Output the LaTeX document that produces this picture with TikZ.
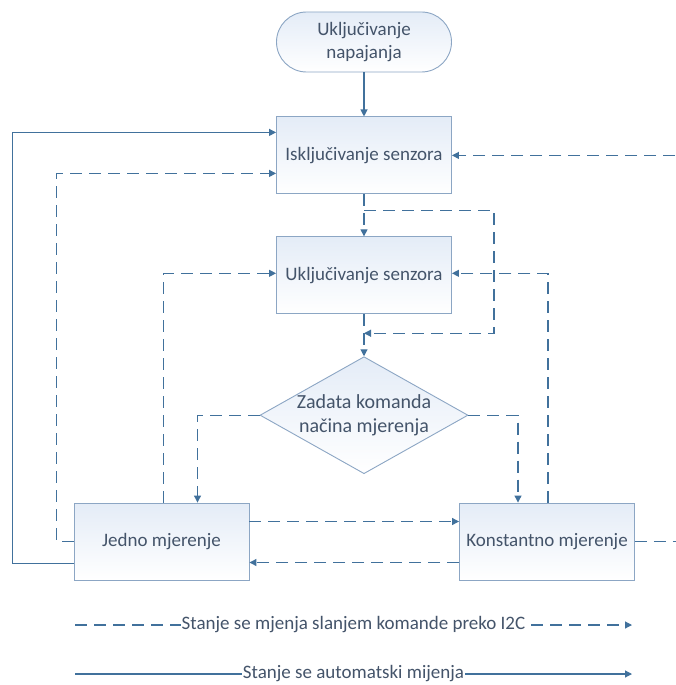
\documentclass[tikz,border=0pt]{standalone}
\usepackage{fontspec}
\setmainfont{Carlito}
\usetikzlibrary{positioning,arrows.meta,calc,shapes.geometric}
\definecolor{LineBlue}{RGB}{65,113,156}
\definecolor{EdgeBlue}{RGB}{140,166,196}
\definecolor{TextSlate}{RGB}{68,84,106}
\definecolor{ShadeTop}{RGB}{228,236,247}
\tikzset{
  flow/.style={-{Triangle[length=7pt,width=7pt]},line width=1.1pt,draw=LineBlue},
  dashflow/.style={flow,dash pattern=on 12pt off 7pt},
  box/.style={draw=EdgeBlue,line width=0.9pt,top color=ShadeTop,bottom color=white,
    minimum width=175pt,minimum height=77pt,align=center,text=TextSlate,
    font=\fontsize{19}{23}\selectfont},
  termbox/.style={box,rounded corners=30pt,minimum height=60pt},
  decbox/.style={box,diamond,aspect=1.78,inner sep=-8pt,minimum width=208pt,minimum height=117pt,
    font=\fontsize{20}{24}\selectfont},
  legtext/.style={fill=white,inner sep=1pt,text=TextSlate,font=\fontsize{19}{23}\selectfont}
}

\begin{document}
\begin{tikzpicture}[x=1pt,y=-1pt,node distance=42pt]
  \clip (0,0) rectangle (676,685);
  \fill[white] (0,0) rectangle (676,685);

  % glavni tok
  \node[termbox] (napajanje) at (364,42) {Uključivanje\\napajanja};
  \node[box,below=44pt of napajanje] (iskljucen) {Isključivanje senzora};
  \node[box,below=of iskljucen] (ukljucen) {Uključivanje senzora};
  \node[decbox,below=of ukljucen] (komanda) {Zadata komanda\\načina mjerenja};
  \node[box] (jedno) at (161.5,541.5) {Jedno mjerenje};
  \node[box] (konst) at (547,541.5) {Konstantno mjerenje};
  \coordinate (desno) at (690,0);
  \coordinate (grana) at ($(iskljucen.south)+(0,16)$);

  \draw[flow] (napajanje) -- (iskljucen);
  \draw[dashflow] (iskljucen) -- (ukljucen);
  \draw[dashflow] (grana) -- ++(130,0) |- ([yshift=-19pt]ukljucen.south);
  \draw[dashflow] (ukljucen) -- (komanda);
  \draw[dashflow] (komanda.west) -| ([xshift=36pt]jedno.north);
  \draw[dashflow] (komanda.east) -| ([xshift=-29pt]konst.north);

  % povratne veze
  \draw[flow] ([yshift=-22pt]jedno.west) -- ++(-61,0) |- ([yshift=23pt]iskljucen.west);
  \draw[dashflow] (jedno.west) -- ++(-17,0) |- ([yshift=-18pt]iskljucen.west);
  \draw[dashflow] (konst.east) -- (konst.east -| desno) |- (iskljucen.east);
  \draw[dashflow] ([xshift=2pt]jedno.north) |- ([yshift=2pt]ukljucen.west);
  \draw[dashflow] ([xshift=1pt]konst.north) |- ([yshift=2pt]ukljucen.east);
  \draw[dashflow] ([yshift=20pt]jedno.east) -- ([yshift=20pt]konst.west);
  \draw[dashflow] ([yshift=-21pt]konst.west) -- ([yshift=-21pt]jedno.east);

  % legenda
  \coordinate (leg1s) at (75,625);
  \coordinate (leg1e) at (632,625);
  \coordinate (leg2s) at (75,674);
  \coordinate (leg2e) at (632,674);
  \draw[dashflow] (leg1s) -- node[legtext] (leg1) {Stanje se mjenja slanjem komande preko I2C} (leg1e);
  \draw[flow] (leg2s) -- node[legtext] (leg2) {Stanje se automatski mijenja} (leg2e);
\end{tikzpicture}
\end{document}
